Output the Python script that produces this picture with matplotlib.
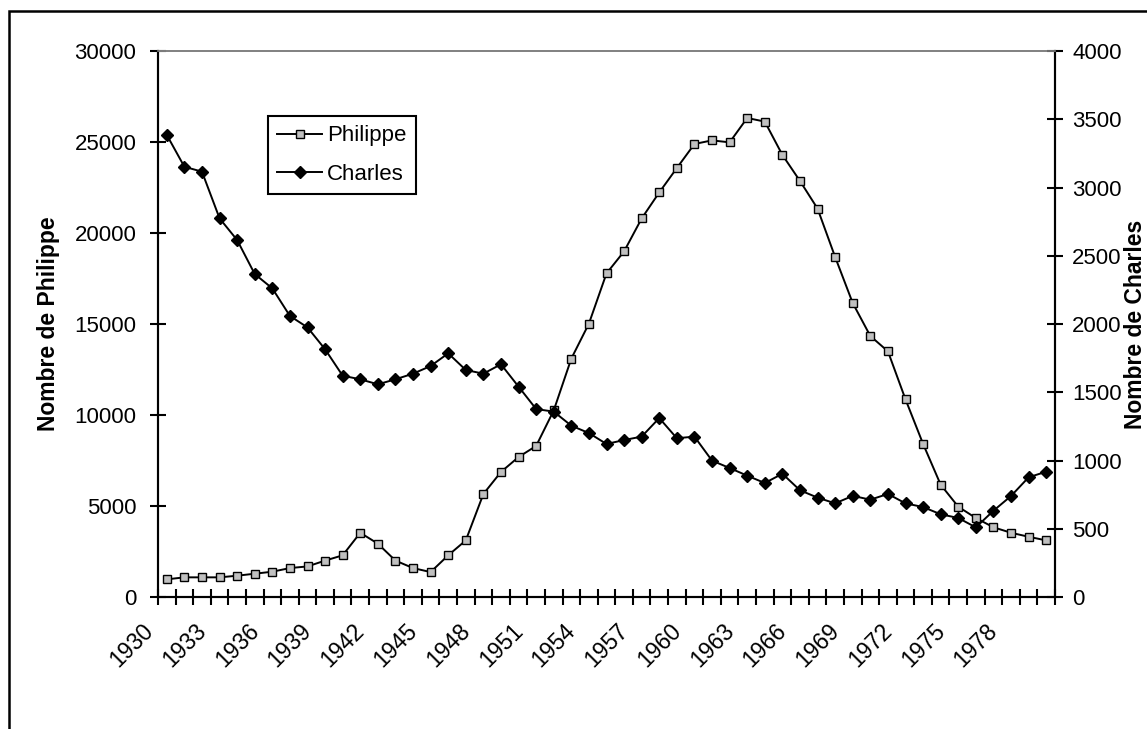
import matplotlib
matplotlib.use("Agg")
import matplotlib.pyplot as plt
from matplotlib.patches import Rectangle

years = list(range(1930, 1981))
philippe = [970, 1080, 1080, 1080, 1170, 1280, 1390, 1590, 1680, 2000,
            2290, 3530, 2930, 2000, 1590, 1370, 2290, 3110, 5660, 6870,
            7690, 8300, 10250, 13100, 15020, 17780, 18990, 20800, 22230, 23570,
            24890, 25090, 24980, 26320, 26120, 24290, 22860, 21340, 18680, 16150,
            14340, 13500, 10860, 8410, 6170, 4960, 4340, 3830, 3530, 3310, 3110]
charles = [3385, 3152, 3116, 2774, 2615, 2366, 2261, 2059, 1975, 1815,
           1621, 1595, 1558, 1595, 1636, 1692, 1785, 1663, 1636, 1705,
           1541, 1377, 1358, 1255, 1201, 1121, 1150, 1175, 1311, 1163,
           1175, 999, 945, 889, 835, 903, 782, 728, 686, 741,
           713, 755, 686, 659, 606, 579, 510, 632, 740, 877, 918]
label_years = [str(y) for y in years[::3]]

plt.rcParams['font.family'] = ['Liberation Sans', 'DejaVu Sans']

W, H = 1147, 729
fig = plt.figure(figsize=(W / 100, H / 100), dpi=100)
ax = fig.add_axes([158 / W, 1 - 597 / H, (1055 - 158) / W, (597 - 51) / H])
ax2 = ax.twinx()

x = list(range(len(years)))
lp, = ax.plot(x, philippe, color='black', lw=1.4, marker='s', ms=5.5,
              mfc='#c0c0c0', mec='black', mew=1.0, label='Philippe')
lc, = ax2.plot(x, charles, color='black', lw=1.4, marker='D', ms=6,
               mfc='black', mec='black', label='Charles')

ax.set_xlim(-0.5, len(years) - 0.5)
ax.set_ylim(0, 30000)
ax2.set_ylim(0, 4000)
ax.set_yticks(range(0, 30001, 5000))
ax2.set_yticks(range(0, 4001, 500))

ax.xaxis.remove_overlapping_locs = False
# category boundary ticks
ax.set_xticks([i - 0.5 for i in range(len(years) + 1)])
ax.set_xticklabels([])
# year labels anchored (rightmost point) at the left boundary of their category
ax.set_xticks([i - 0.5 for i in x[::3]], minor=True)
ax.set_xticklabels(label_years, minor=True, rotation=45, ha='right', va='bottom',
                   rotation_mode='anchor', fontsize=16.5)
ax.tick_params(axis='x', which='minor', length=0, pad=28)
ax.tick_params(axis='x', which='major', direction='inout', length=11, width=1.5)
ax.tick_params(axis='y', direction='inout', length=11, width=1.5, labelsize=16, pad=10)
ax2.tick_params(axis='y', direction='inout', length=11, width=1.5, labelsize=16, pad=7)

for a in (ax, ax2):
    a.spines['top'].set_color('#808080')
    a.spines['top'].set_linewidth(1.2)
    a.spines['left'].set_linewidth(1.5)
    a.spines['right'].set_linewidth(1.5)
    a.spines['bottom'].set_linewidth(1.5)

ax.set_ylabel('Nombre de Philippe', fontsize=16.5, fontweight='bold',
              ha='center', va='center')
ax.yaxis.set_label_coords((49 - 158) / (1055 - 158), 0.5)
ax2.set_ylabel('Nombre de Charles', fontsize=16.5, fontweight='bold',
               ha='center', va='center')
ax2.yaxis.set_label_coords((1135 - 158) / (1055 - 158), 0.5)

leg = fig.legend(handles=[lp, lc], loc='upper left',
                 bbox_to_anchor=(268 / W, 1 - 116 / H), fontsize=16,
                 fancybox=False, framealpha=1, edgecolor='black',
                 borderpad=0.42, labelspacing=0.78, handlelength=2.0,
                 handletextpad=0.25, borderaxespad=0)
leg.get_frame().set_linewidth(1.5)

fig.patches.append(Rectangle((9 / W, -0.1), 1.2, 1 - 11 / H + 0.1,
                             transform=fig.transFigure, fill=False,
                             edgecolor='black', lw=1.8, zorder=-1))

fig.savefig('out.png', dpi=100)
